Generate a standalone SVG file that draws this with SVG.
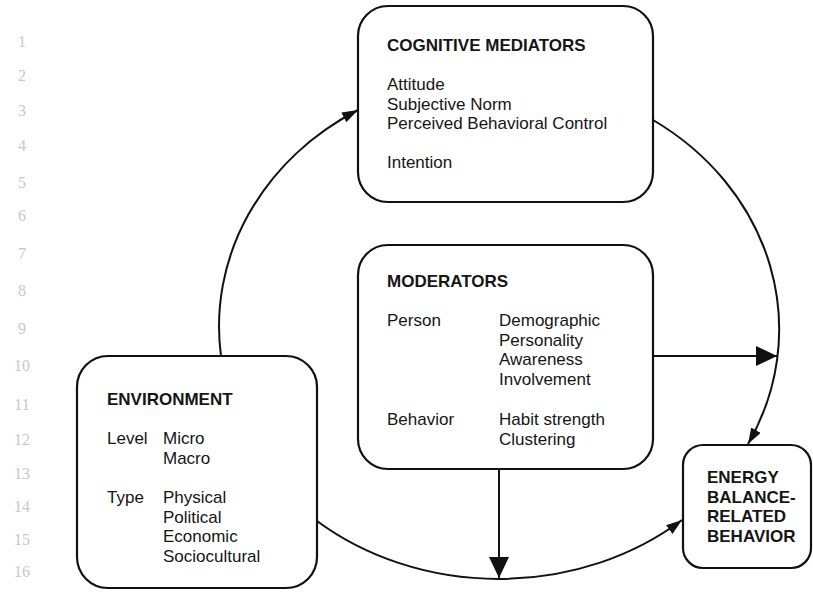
<svg xmlns="http://www.w3.org/2000/svg" width="813" height="603" viewBox="0 0 813 603">
  <style>
    .box { fill: #ffffff; stroke: #111111; stroke-width: 2.2; }
    .t { font-family: "Liberation Sans", Arial, sans-serif; font-size: 17px; fill: #151515; }
    .h { font-family: "Liberation Sans", Arial, sans-serif; font-size: 17px; font-weight: bold; fill: #151515; }
    .ln { font-family: "Liberation Serif", "DejaVu Serif", serif; font-size: 16px; fill: #c8c8c8; text-anchor: middle; }
    .c { fill: none; stroke: #111111; stroke-width: 2; }
  </style>
  <defs>
    <marker id="sm" markerUnits="userSpaceOnUse" markerWidth="17" markerHeight="12" refX="16" refY="5.5" orient="auto">
      <path d="M0,0 L16,5.5 L0,11 Z" fill="#111111"/>
    </marker>
    <marker id="lg" markerUnits="userSpaceOnUse" markerWidth="22" markerHeight="21" refX="21" refY="10" orient="auto">
      <path d="M0,0 L21,10 L0,20 Z" fill="#111111"/>
    </marker>
  </defs>
  <rect width="813" height="603" fill="#ffffff"/>

  <g id="line-numbers">
    <text class="ln" x="22" y="47">1</text>
    <text class="ln" x="22" y="81">2</text>
    <text class="ln" x="22" y="116">3</text>
    <text class="ln" x="22" y="151">4</text>
    <text class="ln" x="22" y="188">5</text>
    <text class="ln" x="22" y="221">6</text>
    <text class="ln" x="22" y="259">7</text>
    <text class="ln" x="22" y="296">8</text>
    <text class="ln" x="22" y="334">9</text>
    <text class="ln" x="22" y="371">10</text>
    <text class="ln" x="22" y="410">11</text>
    <text class="ln" x="22" y="445">12</text>
    <text class="ln" x="22" y="479">13</text>
    <text class="ln" x="22" y="512">14</text>
    <text class="ln" x="22" y="545">15</text>
    <text class="ln" x="22" y="577">16</text>
  </g>

  <g id="connectors">
    <path class="c" d="M221,356 A279,250 0 0 1 358,110" marker-end="url(#sm)"/>
    <path class="c" d="M653,120 A279,250 0 0 1 748,444" marker-end="url(#sm)"/>
    <path class="c" d="M317,521 A279,240 0 0 0 682,520" marker-end="url(#sm)"/>
    <path class="c" d="M653,356 H777" marker-end="url(#lg)"/>
    <path class="c" d="M499,469 V578" marker-end="url(#lg)"/>
  </g>

  <g id="cognitive-mediators">
    <rect class="box" x="358" y="6" width="295" height="196" rx="30" ry="30"/>
    <text class="h" x="387" y="51">COGNITIVE MEDIATORS</text>
    <text class="t" x="387" y="90">Attitude</text>
    <text class="t" x="387" y="109.5">Subjective Norm</text>
    <text class="t" x="387" y="129">Perceived Behavioral Control</text>
    <text class="t" x="387" y="168">Intention</text>
  </g>

  <g id="moderators">
    <rect class="box" x="358" y="245" width="295" height="224" rx="30" ry="30"/>
    <text class="h" x="387" y="287">MODERATORS</text>
    <text class="t" x="387" y="326">Person</text>
    <text class="t" x="499" y="326">Demographic</text>
    <text class="t" x="499" y="345.5">Personality</text>
    <text class="t" x="499" y="365">Awareness</text>
    <text class="t" x="499" y="384.5">Involvement</text>
    <text class="t" x="387" y="425">Behavior</text>
    <text class="t" x="499" y="425">Habit strength</text>
    <text class="t" x="499" y="444.5">Clustering</text>
  </g>

  <g id="environment">
    <rect class="box" x="77" y="356" width="240" height="232" rx="31" ry="31"/>
    <text class="h" x="107" y="405">ENVIRONMENT</text>
    <text class="t" x="107" y="444">Level</text>
    <text class="t" x="163" y="444">Micro</text>
    <text class="t" x="163" y="463.5">Macro</text>
    <text class="t" x="107" y="503">Type</text>
    <text class="t" x="163" y="503">Physical</text>
    <text class="t" x="163" y="522.5">Political</text>
    <text class="t" x="163" y="542">Economic</text>
    <text class="t" x="163" y="561.5">Sociocultural</text>
  </g>

  <g id="energy-balance-related-behavior">
    <rect class="box" x="683" y="445" width="128" height="123" rx="20" ry="20"/>
    <text class="h" x="707" y="483">ENERGY</text>
    <text class="h" x="707" y="502.5">BALANCE-</text>
    <text class="h" x="707" y="522">RELATED</text>
    <text class="h" x="707" y="541.5">BEHAVIOR</text>
  </g>
</svg>
